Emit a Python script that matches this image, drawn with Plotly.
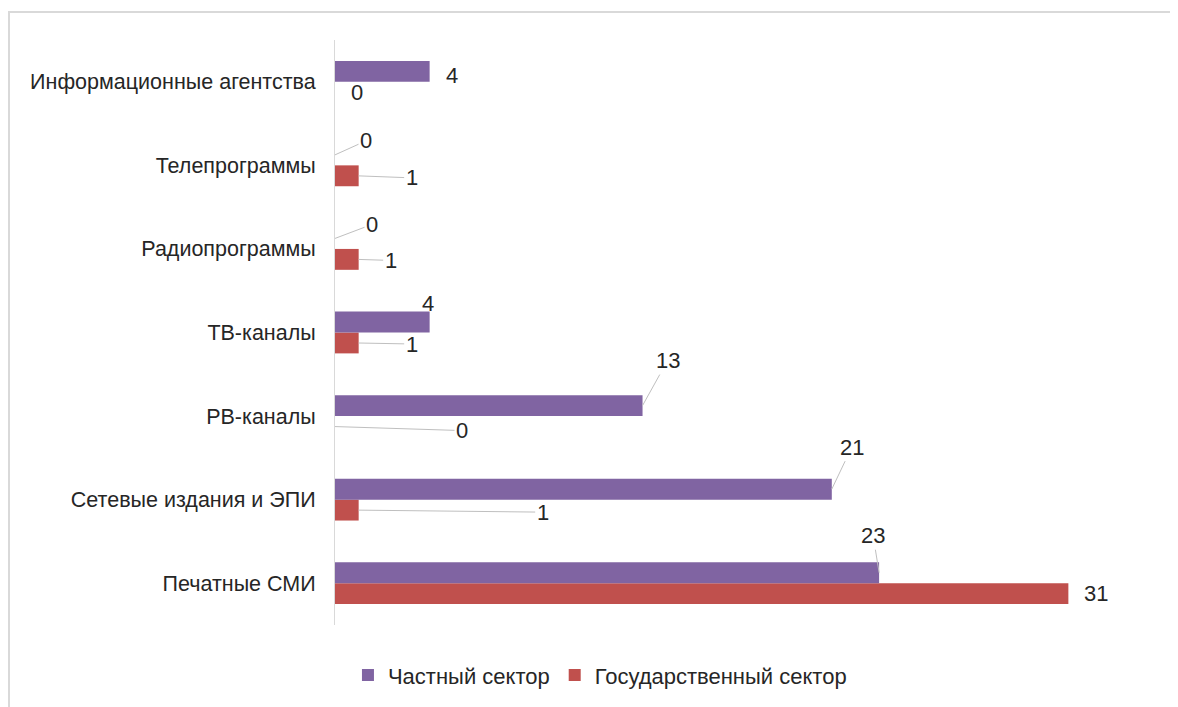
import plotly.graph_objects as go

categories = ["Печатные СМИ", "Сетевые издания и ЭПИ", "РВ-каналы", "ТВ-каналы",
              "Радиопрограммы", "Телепрограммы", "Информационные агентства"]
private_vals = [23, 21, 13, 4, 0, 0, 4]
state_vals = [31, 1, 0, 1, 1, 1, 0]
series_names = ["Частный сектор", "Государственный сектор"]

PURPLE = "#8064A2"
RED = "#C0504D"
FONT = "Liberation Sans, Arial, sans-serif"
TXT = "#262626"

# label offsets (pixels from bar end: dx, dy) and whether a leader line is drawn
private_offsets = [(-6, -37), (20, -42), (25, -45), (-2, -19), (37, -14), (31, -14), (22, 4)]
private_lines = [True, True, True, False, True, True, False]
state_offsets = [(28, 0), (184, 2), (127, 4), (53, 1), (32, 1), (53, 2), (22, 0)]
state_lines = [False, True, True, True, True, True, False]

# page has an 8px body margin; figure sized so plot area lands as in the reference
W, H = 1170, 699
L, R, T, B = 327, 15, 32, 82
PW, PH = W - L - R, H - T - B

fig = go.Figure()
fig.add_trace(go.Bar(y=categories, x=state_vals, orientation="h", name=series_names[1],
                     marker=dict(color=RED, line=dict(width=0))))
fig.add_trace(go.Bar(y=categories, x=private_vals, orientation="h", name=series_names[0],
                     marker=dict(color=PURPLE, line=dict(width=0))))

BAR_SHIFT = 10.5
for vals, offs, lines, shift in [(private_vals, private_offsets, private_lines, BAR_SHIFT),
                                 (state_vals, state_offsets, state_lines, -BAR_SHIFT)]:
    for cat, v, (dx, dy), ln in zip(categories, vals, offs, lines):
        if ln:
            fig.add_annotation(x=v, y=cat, yshift=shift, text=str(v), showarrow=True,
                               ax=dx, ay=dy, axref="pixel", ayref="pixel",
                               arrowhead=0, arrowwidth=1, arrowcolor="#BFBFBF",
                               standoff=0, startstandoff=0,
                               font=dict(family=FONT, size=22, color=TXT))
        else:
            fig.add_annotation(x=v, y=cat, yshift=shift + (-dy), xshift=dx, text=str(v),
                               showarrow=False,
                               font=dict(family=FONT, size=22, color=TXT))

fig.add_shape(type="rect", xref="paper", yref="paper",
              x0=(1 - L) / PW, x1=(W + 30 - L) / PW,
              y0=(T + PH - (H + 30)) / PH, y1=(T + PH - 4) / PH,
              line=dict(color="#D9D9D9", width=2), fillcolor="rgba(0,0,0,0)", layer="below")

fig.update_layout(
    width=W, height=H,
    margin=dict(l=L, r=R, t=T, b=B, autoexpand=False),
    paper_bgcolor="white", plot_bgcolor="white",
    barmode="group", bargap=0.5, bargroupgap=0,
    font=dict(family=FONT, size=21, color=TXT),
    showlegend=True,
    legend=dict(orientation="h", x=0.32, xanchor="center", y=-0.05, yanchor="top",
                traceorder="reversed", font=dict(family=FONT, size=22, color=TXT),
                itemwidth=30),
    xaxis=dict(range=[0, 35], showticklabels=False, showgrid=False, zeroline=False,
               showline=False, ticks=""),
    yaxis=dict(showline=True, linecolor="#D9D9D9", linewidth=1, ticks="",
               showgrid=False, ticklabelstandoff=14,
               tickfont=dict(family=FONT, size=21.5, color=TXT)),
)

fig.write_html("out.html")
